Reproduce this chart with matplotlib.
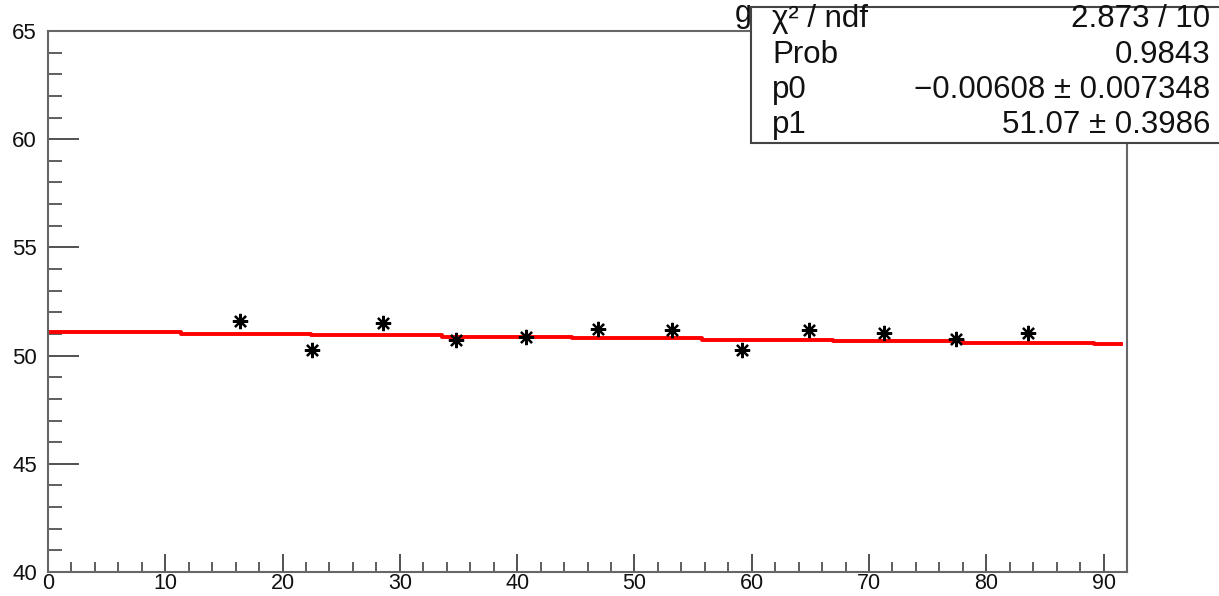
import matplotlib
matplotlib.use("Agg")
import matplotlib.pyplot as plt
import numpy as np
from matplotlib.patches import Rectangle
from matplotlib.ticker import MultipleLocator

plt.rcParams["font.family"] = ["Liberation Sans", "DejaVu Sans"]

# measured points
x_pts = [16.4, 22.55, 28.6, 34.77, 40.74, 46.93, 53.24, 59.16, 64.89, 71.28, 77.43, 83.59]
y_pts = [51.62, 50.28, 51.51, 50.74, 50.88, 51.23, 51.20, 50.28, 51.20, 51.05, 50.77, 51.05]

# fit results (pol1)
p0 = -0.00608
p1 = 51.07
stat_labels = ["\u03c7\u00b2 / ndf", "Prob", "p0", "p1"]
stat_values = ["2.873 / 10", "0.9843", "\u22120.00608 \u00b1 0.007348", "51.07 \u00b1 0.3986"]

W, H = 1219, 596
fig = plt.figure(figsize=(W / 100, H / 100), dpi=100)
ax = fig.add_axes([48 / W, 1 - 572 / H, (1127 - 48) / W, (572 - 31) / H])

ax.plot(x_pts, y_pts, linestyle="none", marker=(8, 2, 0), markersize=11,
        markeredgewidth=1.6, color="black", zorder=3)

# fit line, drawn in coarse steps like the original render
edges = np.append(np.arange(0.2, 91.5, 11.12), 91.5)
yfit = p0 * edges + p1
ax.plot(edges, yfit, drawstyle="steps-post", color="#ff0000", lw=2.8, zorder=2)

ax.set_xlim(0, 92)
ax.set_ylim(40, 65)
ax.xaxis.set_major_locator(MultipleLocator(10))
ax.xaxis.set_minor_locator(MultipleLocator(2))
ax.yaxis.set_major_locator(MultipleLocator(5))
ax.yaxis.set_minor_locator(MultipleLocator(1))
ax.tick_params(axis="y", which="major", direction="in", length=22, width=1.1,
               labelsize=16, pad=8, color="#222222", labelcolor="#111111")
ax.tick_params(axis="y", which="minor", direction="in", length=10, width=1.1, color="#333333")
ax.tick_params(axis="x", which="major", direction="in", length=13, width=1.1,
               labelsize=15.5, pad=0.5, color="#222222", labelcolor="#111111")
ax.tick_params(axis="x", which="minor", direction="in", length=7, width=1.1, color="#333333")
for s in ax.spines.values():
    s.set_color("#666666")
    s.set_linewidth(1.5)

# partially hidden title
fig.text(752 / W, 1 - 22 / H, "g", fontsize=22, ha="right", va="baseline", color="#111111")

# stats box
box = Rectangle((751 / W, 1 - 143 / H), (W + 5 - 751) / W, (143 - 7) / H,
                transform=fig.transFigure, facecolor="white", edgecolor="#444444",
                lw=1.5, zorder=10)
fig.add_artist(box)
baselines = [27, 63, 98, 133]
for lab, val, yy in zip(stat_labels, stat_values, baselines):
    fig.text(772 / W, 1 - yy / H, lab, fontsize=22.5, ha="left", va="baseline",
             color="#111111", zorder=11)
    fig.text(1210 / W, 1 - yy / H, val, fontsize=22.5, ha="right", va="baseline",
             color="#111111", zorder=11)

fig.savefig("out.png", dpi=100, facecolor="white")
